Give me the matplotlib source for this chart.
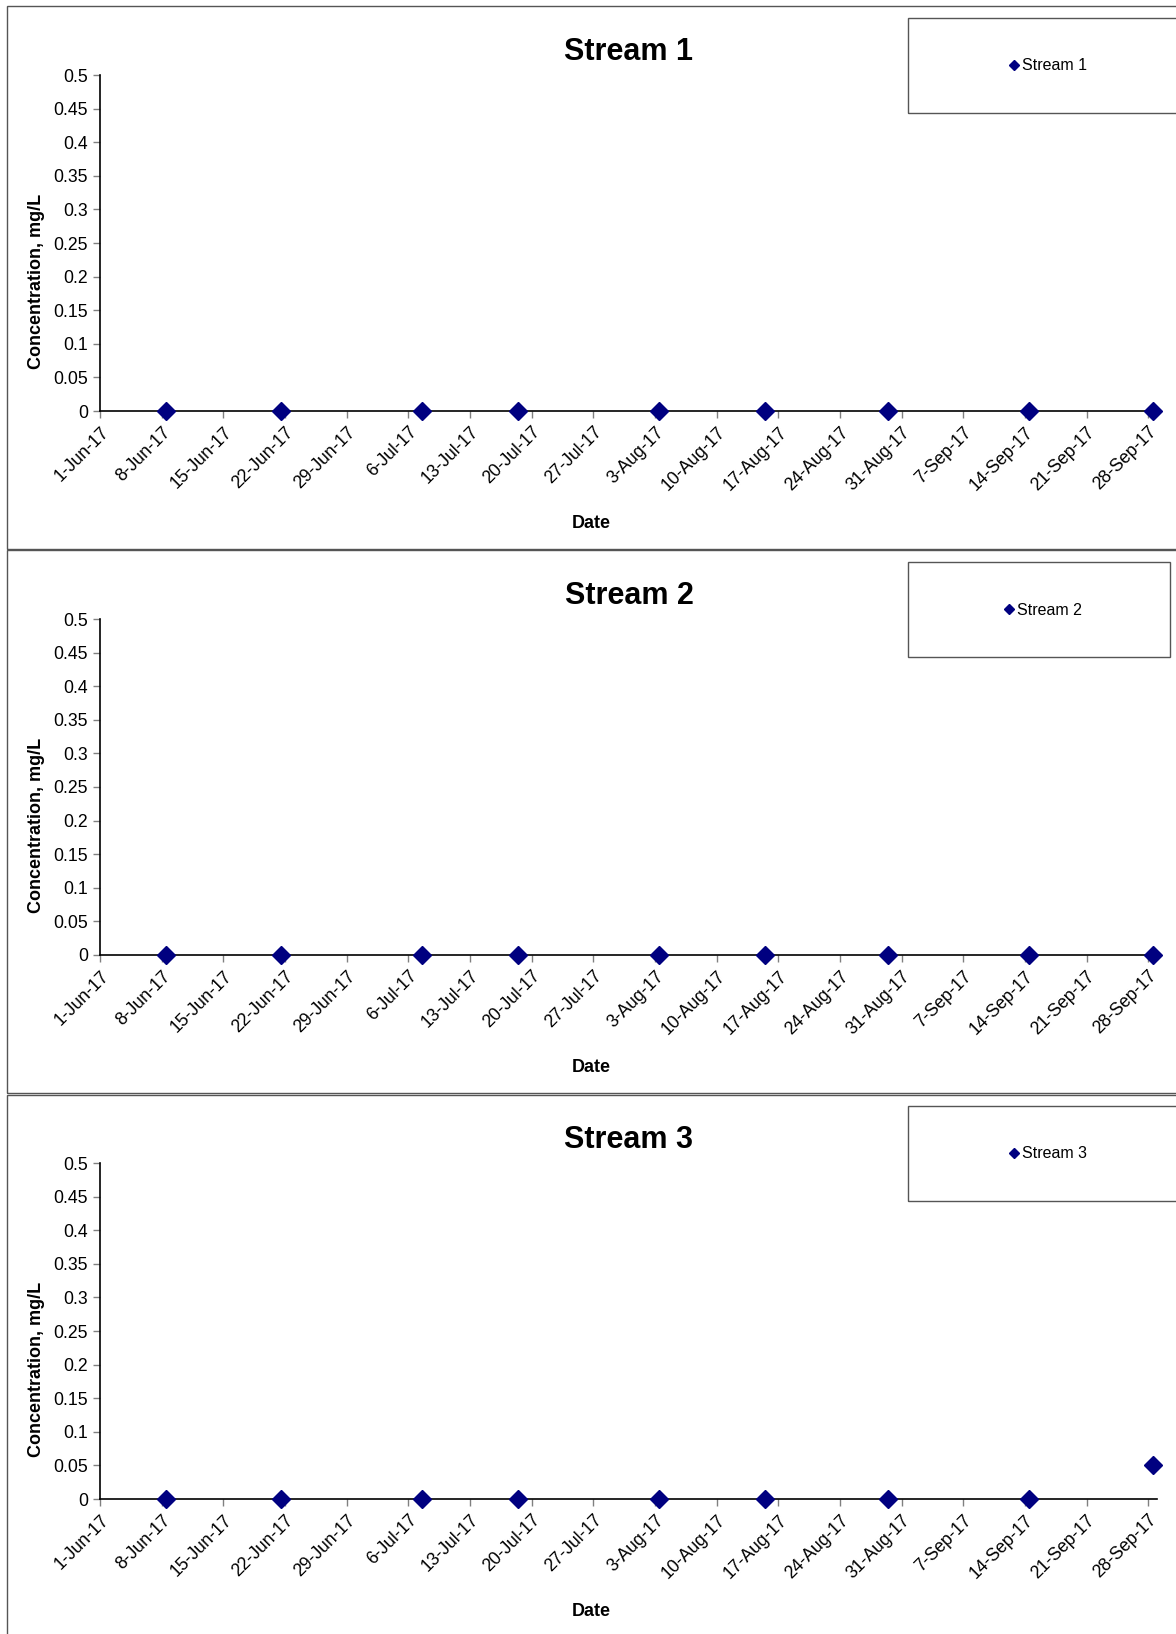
import datetime as dt
import matplotlib
matplotlib.use('Agg')
import matplotlib.pyplot as plt
import matplotlib.transforms as mtransforms
from matplotlib.patches import Rectangle
from matplotlib.ticker import FuncFormatter, MultipleLocator

plt.rcParams['font.family'] = ['Liberation Sans', 'DejaVu Sans']

# datos
fechas = [dt.datetime(2017, 6, 8), dt.datetime(2017, 6, 21), dt.datetime(2017, 7, 7),
          dt.datetime(2017, 7, 18), dt.datetime(2017, 8, 3), dt.datetime(2017, 8, 15),
          dt.datetime(2017, 8, 29), dt.datetime(2017, 9, 14), dt.datetime(2017, 9, 28)]
streams = ['Stream 1', 'Stream 2', 'Stream 3']
stream_1 = [0, 0, 0, 0, 0, 0, 0, 0, 0]
stream_2 = [0, 0, 0, 0, 0, 0, 0, 0, 0]
stream_3 = [0, 0, 0, 0, 0, 0, 0, 0, 0.05]
valores = [stream_1, stream_2, stream_3]

W, H = 1176, 1634
fig = plt.figure(figsize=(W / 100, H / 100), dpi=100)

x_ini = dt.datetime(2017, 6, 1)
x_fin = dt.datetime(2017, 9, 29)
ticks_x = [x_ini + dt.timedelta(days=7 * k) for k in range(18)]

def px(x0, y0, x1, y1):
    # rectangulo en pixeles -> fraccion de figura
    return [x0 / W, 1 - y1 / H, (x1 - x0) / W, (y1 - y0) / H]

for i, nombre in enumerate(streams):
    off = 544 * i
    # marco del grafico
    top = 6 + off + (1 if i == 2 else 0)
    fig.patches.append(Rectangle((7 / W, 1 - (top + 543) / H), 1.2, 543 / H,
                                 transform=fig.transFigure, fill=False,
                                 edgecolor='#555555', lw=1.0))

    ax = fig.add_axes(px(100, 75 + off, 1157, 411 + off))
    x_plot = [f + dt.timedelta(hours=12) for f in fechas]
    ax.plot(x_plot, valores[i], linestyle='none', marker='D', markersize=9,
            color='#000080', clip_on=False, zorder=5, label=nombre)

    ax.set_xlim(x_ini, x_fin)
    ax.set_ylim(0, 0.5)
    ax.yaxis.set_major_locator(MultipleLocator(0.05))
    ax.yaxis.set_major_formatter(FuncFormatter(lambda v, p: '%g' % round(v, 2)))
    ax.set_xticks(ticks_x)
    ax.set_xticklabels([f"{d.day}-{d.strftime('%b-%y')}" for d in ticks_x],
                       rotation=45, ha='right', rotation_mode='anchor')
    desplaza = mtransforms.ScaledTranslation(6 / 100, 0, fig.dpi_scale_trans)
    for lbl in ax.get_xticklabels():
        lbl.set_transform(lbl.get_transform() + desplaza)
    for s in ['top', 'right']:
        ax.spines[s].set_visible(False)
    for s in ['left', 'bottom']:
        ax.spines[s].set_color('black')
        ax.spines[s].set_linewidth(1.2)
    ax.tick_params(axis='both', labelsize=12.7, color='#808080', length=5, width=1)
    ax.tick_params(axis='x', pad=4)

    ax.set_ylabel('Concentration, mg/L', fontsize=13, fontweight='bold')
    ax.yaxis.set_label_coords(-0.052, 0.385)
    ax.set_xlabel('Date', fontsize=13, fontweight='bold', va='center')
    ax.xaxis.set_label_coords(0.465, -0.336)

    fig.text(629 / W, 1 - (60 + off) / H, nombre, fontsize=22, fontweight='bold',
             ha='center', va='baseline')

    # caja de leyenda
    ancho = 262 if i == 1 else 300
    fig.patches.append(Rectangle((908 / W, 1 - (113 + off) / H), ancho / W, 95 / H,
                                 transform=fig.transFigure, fill=False,
                                 edgecolor='#555555', lw=1.0))
    xl = 1008 if i != 1 else 1003
    ax.legend(loc='center left', bbox_to_anchor=(xl / W, 1 - (66 + off) / H),
              bbox_transform=fig.transFigure, frameon=False, fontsize=11.5,
              handlelength=0.7, handletextpad=0.15, markerscale=0.6,
              borderpad=0, borderaxespad=0)

fig.savefig('out.png', dpi=100, facecolor='white')
